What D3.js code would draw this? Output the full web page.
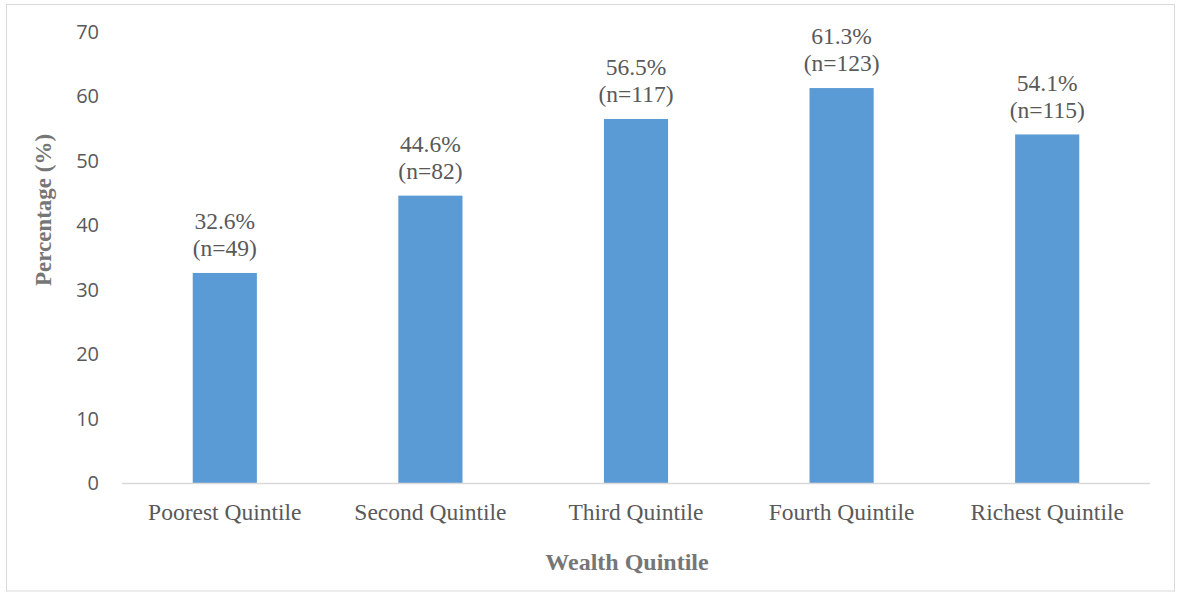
<!DOCTYPE html>
<html>
<head>
<meta charset="utf-8">
<script src="https://cdn.jsdelivr.net/npm/d3@7"></script>
<style>
  body { margin: 0; background: #fff; }
  svg { display: block; }
</style>
</head>
<body>
<script>
// values
const quintiles = ["Poorest Quintile", "Second Quintile", "Third Quintile", "Fourth Quintile", "Richest Quintile"];
const percentages = [32.6, 44.6, 56.5, 61.3, 54.1];
const counts = [49, 82, 117, 123, 115];
const yTicks = [0, 10, 20, 30, 40, 50, 60, 70];

const W = 1177, H = 592;
const plot = { left: 122, right: 1150, top: 32, bottom: 483 };
const serif = "'Liberation Serif', 'Times New Roman', serif";

const svg = d3.select("body").append("svg")
  .attr("width", W)
  .attr("height", H);

// outer chart border
svg.append("rect")
  .attr("x", 6.5).attr("y", 4.5)
  .attr("width", W - 9).attr("height", H - 5.5)
  .attr("fill", "#fff")
  .attr("stroke", "#d9d9d9");

const x = d3.scaleBand()
  .domain(quintiles)
  .range([plot.left, plot.right])
  .padding(0);

const y = d3.scaleLinear()
  .domain([0, 70])
  .range([plot.bottom, plot.top]);

const barW = x.bandwidth() * 0.312;

// y tick labels (no axis line, no gridlines)
svg.append("g")
  .selectAll("text")
  .data(yTicks)
  .join("text")
  .attr("x", 99)
  .attr("y", d => y(d))
  .attr("dy", "0.35em")
  .attr("text-anchor", "end")
  .attr("font-family", "'Open Sans', sans-serif")
  .attr("font-size", 20)
  .attr("fill", "#595959")
  .text(d => d);

// bars
const data = quintiles.map((q, i) => ({ q: q, v: percentages[i], n: counts[i] }));

svg.append("g")
  .selectAll("rect")
  .data(data)
  .join("rect")
  .attr("x", d => x(d.q) + (x.bandwidth() - barW) / 2)
  .attr("y", d => y(d.v))
  .attr("width", barW)
  .attr("height", d => y(0) - y(d.v))
  .attr("fill", "#5b9bd5");

// baseline
svg.append("line")
  .attr("x1", plot.left).attr("x2", plot.right)
  .attr("y1", y(0) + 0.5).attr("y2", y(0) + 0.5)
  .attr("stroke", "#d9d9d9")
  .attr("stroke-width", 1.5);

// data labels, two lines each
const labels = svg.append("g")
  .attr("font-family", serif)
  .attr("font-size", 23.5)
  .attr("fill", "#595959")
  .attr("text-anchor", "middle");

labels.selectAll("text.pct")
  .data(data)
  .join("text")
  .attr("class", "pct")
  .attr("x", d => x(d.q) + x.bandwidth() / 2)
  .attr("y", d => y(d.v) - 52)
  .attr("dy", "0.35em")
  .text(d => d.v.toFixed(1) + "%");

labels.selectAll("text.n")
  .data(data)
  .join("text")
  .attr("class", "n")
  .attr("x", d => x(d.q) + x.bandwidth() / 2)
  .attr("y", d => y(d.v) - 25)
  .attr("dy", "0.35em")
  .text(d => "(n=" + d.n + ")");

// category labels
svg.append("g")
  .selectAll("text")
  .data(quintiles)
  .join("text")
  .attr("x", d => x(d) + x.bandwidth() / 2)
  .attr("y", 512)
  .attr("dy", "0.35em")
  .attr("text-anchor", "middle")
  .attr("font-family", serif)
  .attr("font-size", 23.5)
  .attr("fill", "#595959")
  .text(d => d);

// axis titles
svg.append("text")
  .attr("x", 627)
  .attr("y", 562)
  .attr("dy", "0.35em")
  .attr("text-anchor", "middle")
  .attr("font-family", serif)
  .attr("font-weight", "bold")
  .attr("font-size", 24)
  .attr("fill", "#767676")
  .text("Wealth Quintile");

svg.append("text")
  .attr("transform", "translate(43,210) rotate(-90)")
  .attr("dy", "0.35em")
  .attr("text-anchor", "middle")
  .attr("font-family", serif)
  .attr("font-weight", "bold")
  .attr("font-size", 23)
  .attr("fill", "#767676")
  .text("Percentage (%)");
</script>
</body>
</html>
